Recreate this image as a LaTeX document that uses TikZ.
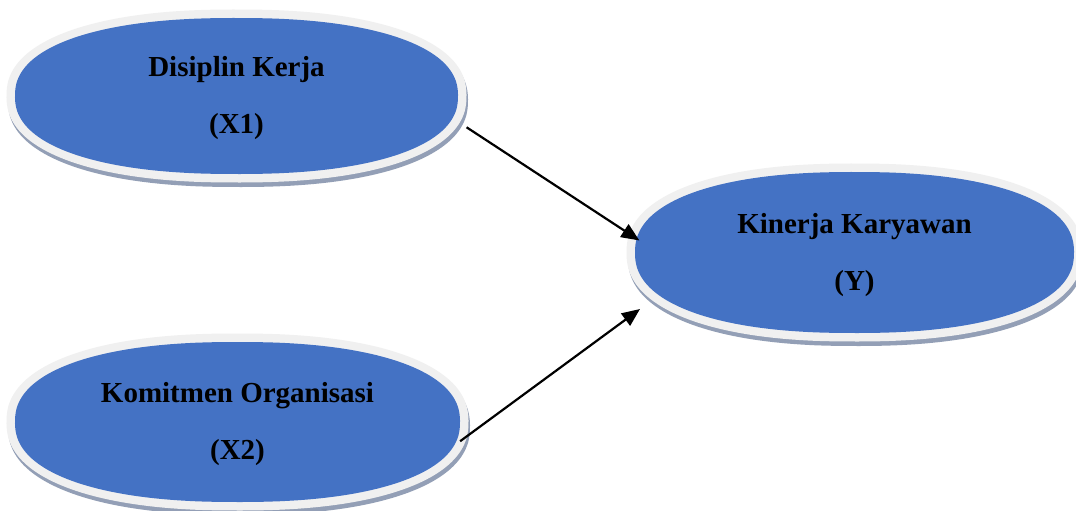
\documentclass[tikz,border=0pt]{standalone}
\usepackage{fontspec}
\setmainfont{Liberation Serif}
\usetikzlibrary{arrows.meta,shapes.geometric}
\definecolor{bluec}{HTML}{4472C4}
\definecolor{rimc}{HTML}{F0F0F0}
\definecolor{shadowc}{HTML}{939FB6}
\tikzset{
  blobshadow/.style={fill=shadowc},
  blobrim/.style={fill=rimc},
  blobfill/.style={fill=bluec},
  label/.style={ellipse, draw=none, inner sep=0pt, align=center,
    font=\fontsize{29}{57}\selectfont\bfseries, text=black},
  arrowline/.style={line width=2.2pt, draw=black, -{Triangle[length=18pt,width=15pt]}}
}
% superellipse: cx, cy, a, b, style
\newcommand\superblob[5]{%
  \path[#5, shift={(#1,#2)}] plot[domain=0.5:360.5, samples=181, variable=\t]
    ({(#3)*sign(cos(\t))*abs(cos(\t))^(0.87)}, {(#4)*sign(sin(\t))*abs(sin(\t))^(0.87)}) -- cycle;}
\newcommand\fullblob[4]{%
  \superblob{#1+1.5}{#2-4.5}{#3+8.5}{#4+8.5}{blobshadow}
  \superblob{#1}{#2}{#3+8.5}{#4+8.5}{blobrim}
  \superblob{#1}{#2}{#3}{#4}{blobfill}}
\begin{document}
\begin{tikzpicture}[x=1pt,y=1pt]
\clip (0,0) rectangle (1076,-511);
\fill[white] (0,0) rectangle (1076,-511);
% shapes
\fullblob{236.5}{-96}{221.5}{78}
\fullblob{237.5}{-422}{222.5}{80}
\fullblob{854.5}{-252.5}{219.5}{80.5}
% labels (named nodes)
\node[label, minimum width=460pt, minimum height=173pt] (x1) at (236.5,-98.5) {Disiplin Kerja\\(X1)};
\node[label, minimum width=462pt, minimum height=177pt] (x2) at (237.5,-424.5) {Komitmen Organisasi\\(X2)};
\node[label, minimum width=456pt, minimum height=178pt] (y) at (854.5,-255) {Kinerja Karyawan\\(Y)};
% connectors
\coordinate (t2) at (640,-309);
\draw[arrowline, shorten <=10pt, shorten >=-9pt] (x1.-6) -- (y.175);
\draw[arrowline, shorten <=-8pt] (x2.-3) -- (t2);
\end{tikzpicture}
\end{document}
